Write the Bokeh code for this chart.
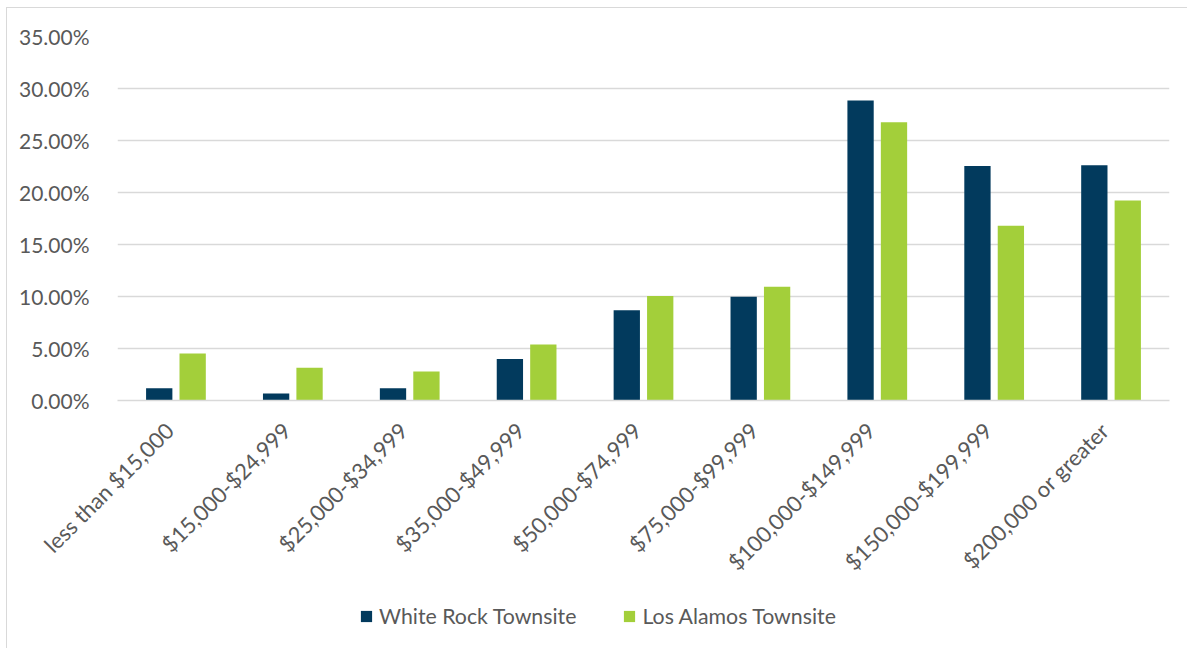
import math
import numpy as np
from bokeh.plotting import figure
from bokeh.layouts import column
from bokeh.models import (Range1d, ColumnDataSource, NumeralTickFormatter, Legend, LegendItem,
                          FixedTicker)
from bokeh.transform import dodge
from bokeh.embed import file_html
from bokeh.resources import INLINE

categories = ["less than $15,000", "$15,000-$24,999", "$25,000-$34,999", "$35,000-$49,999",
              "$50,000-$74,999", "$75,000-$99,999", "$100,000-$149,999", "$150,000-$199,999",
              "$200,000 or greater"]
white_rock = [0.0118, 0.0067, 0.0118, 0.0400, 0.0868, 0.0997, 0.2885, 0.2256, 0.2263]
los_alamos = [0.0452, 0.0314, 0.0279, 0.0538, 0.1006, 0.1093, 0.2676, 0.1680, 0.1923]
series_names = ["White Rock Townsite", "Los Alamos Townsite"]
y_ticks = [0.0, 0.05, 0.10, 0.15, 0.20, 0.25, 0.30, 0.35]

DARK = "#023A5D"
GREEN = "#A3CF3A"
FONT = "Lato"
TXT = "#595959"

n = len(categories)
pos = (np.arange(n) + 0.5).tolist()          # category centres on a linear scale
src = ColumnDataSource(dict(cat=categories, pos=pos, wr=white_rock, la=los_alamos))

p = figure(x_range=Range1d(0, n), y_range=(0, 0.35),
           width=1180, height=582, output_backend="svg", toolbar_location=None,
           min_border_left=110, min_border_right=18, min_border_top=28, min_border_bottom=190)

r1 = p.vbar(x=dodge("pos", -0.143), top="wr", width=0.225, source=src,
            fill_color=DARK, line_color=None)
r2 = p.vbar(x=dodge("pos", 0.143), top="la", width=0.225, source=src,
            fill_color=GREEN, line_color=None)

p.outline_line_color = None
p.xgrid.grid_line_color = None
p.ygrid.grid_line_color = "#d9d9d9"
p.ygrid.grid_line_width = 1.3
p.yaxis.ticker = FixedTicker(ticks=y_ticks)
p.yaxis.formatter = NumeralTickFormatter(format="0.00%")
p.yaxis.axis_line_color = None
p.yaxis.major_tick_line_color = None
p.yaxis.minor_tick_line_color = None
p.yaxis.major_label_standoff = 22
p.yaxis.major_label_text_font = FONT
p.yaxis.major_label_text_font_size = "21px"
p.yaxis.major_label_text_color = TXT

# category labels: ticks nudged slightly left so the rotated text ends at the centre
label_ticks = [x - 0.055 for x in pos]
p.xaxis.ticker = FixedTicker(ticks=label_ticks, minor_ticks=[])
p.xaxis.major_label_overrides = {t: c for t, c in zip(label_ticks, categories)}
p.xaxis.axis_line_color = "#d9d9d9"
p.xaxis.axis_line_width = 1.3
p.xaxis.major_tick_line_color = None
p.xaxis.minor_tick_line_color = None
p.xaxis.major_tick_out = 0
p.xaxis.major_label_orientation = math.pi / 4
p.xaxis.major_label_standoff = 26
p.xaxis.major_label_text_font = FONT
p.xaxis.major_label_text_font_size = "22px"
p.xaxis.major_label_text_color = TXT

# legend strip below the chart (its bars sit outside its visible y range)
lf = figure(width=1180, height=58, output_backend="svg", toolbar_location=None,
            x_axis_type=None, y_axis_type=None, x_range=(0, n), y_range=(1, 2),
            min_border=0)
lf.outline_line_color = None
lf.xgrid.grid_line_color = None
lf.ygrid.grid_line_color = None
g1 = lf.vbar(x="pos", top="wr", width=0.2, source=src, fill_color=DARK, line_color=None)
g2 = lf.vbar(x="pos", top="la", width=0.2, source=src, fill_color=GREEN, line_color=None)
legend = Legend(items=[LegendItem(label=series_names[0], renderers=[g1], index=0),
                       LegendItem(label=series_names[1], renderers=[g2], index=0)],
                location=(242, 19), orientation="horizontal",
                border_line_color=None, background_fill_alpha=0,
                padding=0, margin=0, spacing=46, label_standoff=6,
                glyph_width=14, glyph_height=14, label_height=20,
                label_text_font=FONT, label_text_font_size="21.3px", label_text_color=TXT)
lf.add_layout(legend, "center")

layout = column(p, lf, spacing=0)
layout.styles = {"margin-left": "6px", "margin-top": "7px",
                 "border-left": "1px solid #d9d9d9", "border-top": "1px solid #d9d9d9"}

open("out.html", "w").write(file_html(layout, INLINE))
